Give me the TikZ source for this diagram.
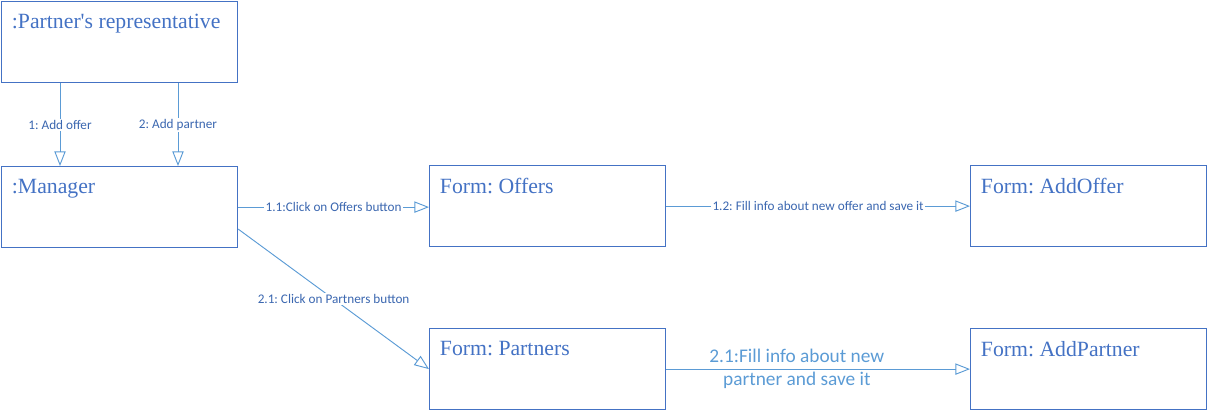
\documentclass[tikz,border=0pt]{standalone}
\usepackage{fontspec}
\setmainfont{Liberation Serif}[Ligatures=TeXOff]
\newfontfamily\msgfont{Carlito}
\usetikzlibrary{arrows.meta}
\frenchspacing

\definecolor{boxline}{HTML}{4472C4}
\definecolor{flowline}{HTML}{5B9BD5}
\definecolor{msgtext}{HTML}{3B67B0}

\begin{document}
\begin{tikzpicture}[x=0.75pt, y=-0.75pt]
    \tikzset{
        object/.style={
            draw=boxline, line width=0.9pt, rectangle,
            minimum width=177pt, minimum height=60.75pt,
            inner sep=0pt, anchor=north west,
        },
        title/.style={
            anchor=north west, inner sep=0pt,
            xshift=8pt, yshift=-10pt,
            text=boxline, font=\fontsize{16.3}{18}\selectfont,
        },
        flow/.style={
            draw=flowline, line width=0.7pt,
            -{Triangle[open, length=11pt, width=8.5pt]},
        },
        msg/.style={
            midway, fill=white, inner sep=1pt,
            text=msgtext, font=\msgfont\fontsize{9.9}{12}\selectfont,
        },
    }

    \useasboundingbox (0, 0) rectangle (1208, 411);

    % objects
    \node[object, label={[title]north west:{:Partner\symbol{39}s representative}}] (rep) at (1, 1) {};
    \node[object, label={[title]north west:{:Manager}}] (mgr) at (1, 166) {};
    \node[object, label={[title]north west:{Form: Offers}}] (offers) at (429, 165) {};
    \node[object, label={[title]north west:{Form: AddOffer}}] (addoffer) at (970, 165) {};
    \node[object, label={[title]north west:{Form: Partners}}] (partners) at (429, 328) {};
    \node[object, label={[title]north west:{Form: AddPartner}}] (addpartner) at (970, 328) {};

    % messages
    \draw[flow] ([shift={(59, 0)}]rep.south west)
        -- node[msg] {1: Add offer} ([shift={(59, 0)}]mgr.north west);
    \draw[flow] ([shift={(177, 0)}]rep.south west)
        -- node[msg] {2: Add partner} ([shift={(177, 0)}]mgr.north west);

    \draw[flow] (mgr.east)
        -- node[msg] {1.1:Click on Offers button} (mgr.east -| offers.west);
    \draw[flow] (offers.east)
        -- node[msg] {1.2: Fill info about new offer and save it} (addoffer.west);

    \draw[flow] ([shift={(0, 22)}]mgr.east)
        -- node[msg] {2.1: Click on Partners button} (partners.west);
    \draw[flow] (partners.east)
        -- node[pos=.43, align=center, inner sep=0pt, text=flowline,
                 font=\msgfont\fontsize{14.5}{17}\selectfont]
           {2.1:Fill info about new\\partner and save it} (addpartner.west);
\end{tikzpicture}
\end{document}
